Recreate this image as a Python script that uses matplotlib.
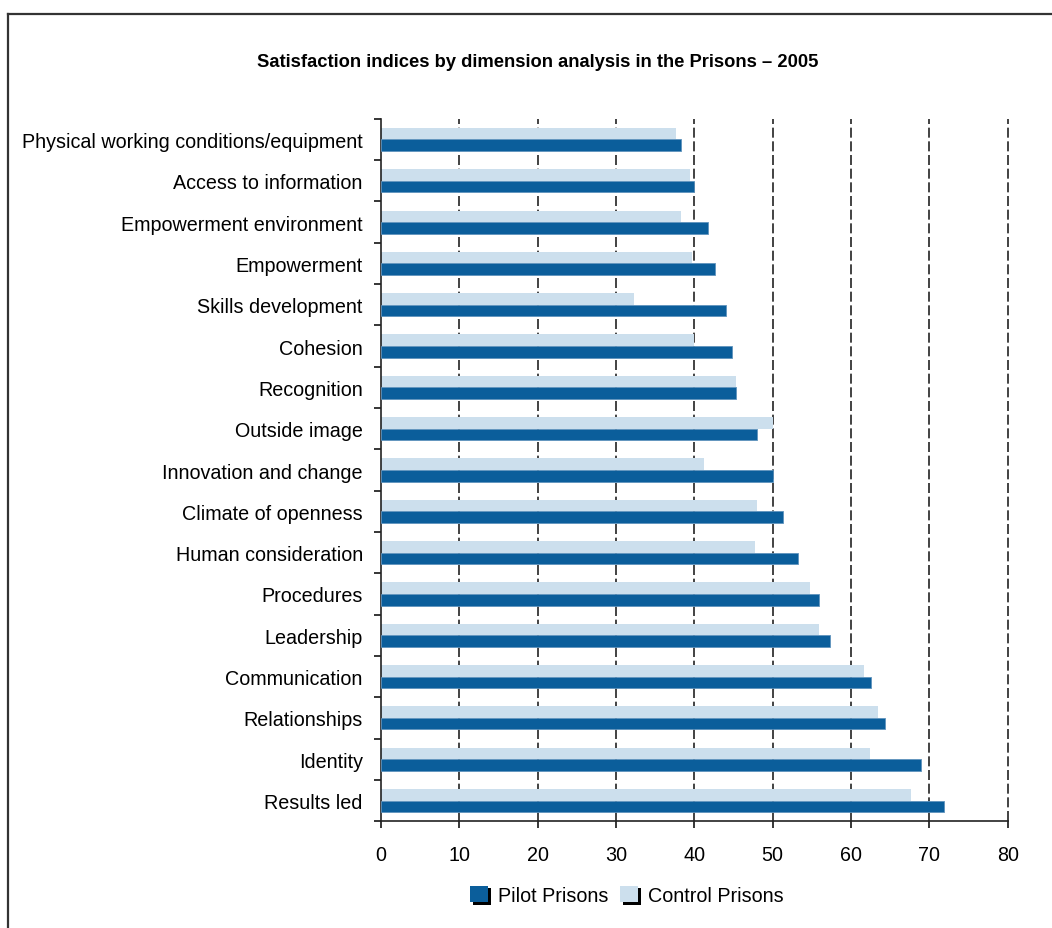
import matplotlib
matplotlib.use("Agg")
import matplotlib.pyplot as plt
import matplotlib.patheffects as pe
from matplotlib.patches import Patch
from matplotlib.lines import Line2D
import numpy as np

plt.rcParams['font.family'] = ['Liberation Sans', 'DejaVu Sans']

# satisfaction indices per dimension, 2005
dimensions = [
    "Physical working conditions/equipment",
    "Access to information",
    "Empowerment environment",
    "Empowerment",
    "Skills development",
    "Cohesion",
    "Recognition",
    "Outside image",
    "Innovation and change",
    "Climate of openness",
    "Human consideration",
    "Procedures",
    "Leadership",
    "Communication",
    "Relationships",
    "Identity",
    "Results led",
]
pilot = [38.3, 40.0, 41.7, 42.6, 44.1, 44.8, 45.3, 48.0, 50.1, 51.3,
         53.2, 55.9, 57.3, 62.6, 64.3, 68.9, 71.9]
control = [37.6, 39.5, 38.3, 39.7, 32.3, 40.0, 45.3, 50.0, 41.2, 48.0,
           47.7, 54.8, 55.9, 61.6, 63.5, 62.4, 67.7]

pilot_col = "#0B5E9B"
control_col = "#CCDFED"

fig = plt.figure(figsize=(10.52, 9.29), dpi=100)
ax = fig.add_axes([0.362, 0.115, 0.596, 0.756])

y = np.arange(len(dimensions))
h = 0.28
ax.barh(y - 0.14, control, height=h, color=control_col, zorder=2)
ax.barh(y + 0.14, pilot, height=h, color=pilot_col, edgecolor="#5f93bd",
        linewidth=0.6, zorder=3)

ax.set_xlim(0, 80)
ax.set_ylim(len(dimensions) - 0.5, -0.5)
ax.set_xticks(range(0, 81, 10))
ax.set_yticks(y)
ax.set_yticklabels(dimensions)
ax.set_yticks(np.arange(-0.5, len(dimensions), 1), minor=True)

for v in range(10, 81, 10):
    ax.axvline(v, color="#222222", lw=1.2, dashes=(6, 2.2), zorder=1, clip_on=False)

for s in ["top", "right"]:
    ax.spines[s].set_visible(False)
for s in ["left", "bottom"]:
    ax.spines[s].set_linewidth(1.2)
    ax.spines[s].set_color("#222222")

ax.tick_params(axis="y", which="major", length=0, pad=13, labelsize=14.2)
ax.tick_params(axis="y", which="minor", length=5, width=1.1, direction="out")
ax.tick_params(axis="x", length=5, width=1.1, pad=12, labelsize=14.2)

fig.text(0.511, 0.933, "Satisfaction indices by dimension analysis in the Prisons \u2013 2005",
         ha="center", va="center", fontsize=13.2, fontweight="bold")

shadow = [pe.SimplePatchShadow(offset=(1.8, -1.8), shadow_rgbFace="black", alpha=1.0),
          pe.Normal()]
handles = [Patch(facecolor=pilot_col, label="Pilot Prisons", path_effects=shadow),
           Patch(facecolor=control_col, label="Control Prisons", path_effects=shadow)]
fig.legend(handles=handles, loc="center", bbox_to_anchor=(0.596, 0.035), ncol=2,
           frameon=False, fontsize=14.2, handlelength=0.9, handleheight=0.9,
           handletextpad=0.5, columnspacing=0.6)

# page frame, open on the right and bottom
fig.add_artist(Line2D([0.0076, 0.0076], [0.0, 0.984], color="#333333", lw=1.6))
fig.add_artist(Line2D([0.0076, 1.0], [0.984, 0.984], color="#333333", lw=1.6))

fig.savefig("out.png", dpi=100)
